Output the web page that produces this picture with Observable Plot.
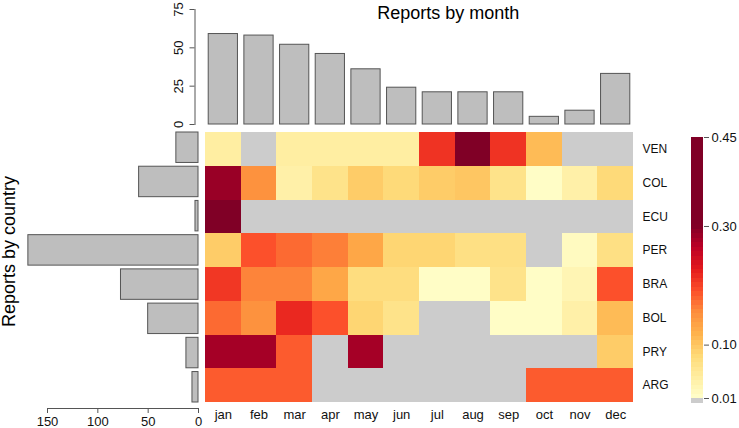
<!DOCTYPE html>
<html><head><meta charset="utf-8">
<script src="https://cdn.jsdelivr.net/npm/d3@7"></script>
<script src="https://cdn.jsdelivr.net/npm/@observablehq/plot@0.6"></script>
<style>
html,body{margin:0;padding:0;background:#fff;}
#chart{position:relative;width:739px;height:428px;overflow:hidden;background:#fff;}
#chart svg{position:absolute;left:0;top:0;}
</style></head><body><div id="chart"></div>
<script>
const months = ["jan","feb","mar","apr","may","jun","jul","aug","sep","oct","nov","dec"];
const countries = ["VEN","COL","ECU","PER","BRA","BOL","PRY","ARG"];
const monthTotals = [59,58,52,46,36,24,21,21,21,5,9,33];
const countryTotals = [22,59,3,169,77,50,12,6];
const rateVEN = [0.045,null,0.045,0.045,0.045,0.045,0.21,0.40,0.21,0.11,null,null];
const rateCOL = [0.285,0.15,0.04,0.065,0.095,0.08,0.095,0.10,0.065,0.015,0.04,0.08];
const rateECU = [0.45,null,null,null,null,null,null,null,null,null,null,null];
const ratePER = [0.095,0.19,0.175,0.163,0.13,0.085,0.085,0.07,0.07,null,0.02,0.07];
const rateBRA = [0.207,0.16,0.16,0.13,0.075,0.075,0.015,0.015,0.065,0.015,0.03,0.19];
const rateBOL = [0.175,0.15,0.218,0.19,0.085,0.065,null,null,0.015,0.015,0.04,0.11];
const ratePRY = [0.278,0.278,0.184,null,0.278,null,null,null,null,null,null,0.095];
const rateARG = [0.184,0.184,0.184,null,null,null,null,null,null,0.184,0.184,0.184];
const rateRows = [rateVEN,rateCOL,rateECU,ratePER,rateBRA,rateBOL,ratePRY,rateARG];
const monthTicks = [0,25,50,75];
const countryTicks = [0,50,100,150];
const colorTicks = [0.01,0.10,0.30,0.45];
const ylorrd = ["#ffffcc","#ffeda0","#fed976","#feb24c","#fd8d3c","#fc4e2a","#e31a1c","#bd0026","#800026"];

const monthBars = months.map((m,i)=>({month:m, n:monthTotals[i]}));
const countryBars = countries.map((c,i)=>({country:c, n:countryTotals[i]}));
const cells = countries.flatMap((c,i)=>months.map((m,j)=>({country:c, month:m, rate:rateRows[i][j]})));
const legendStep = 0.0075;
const legendBands = d3.range(0.01, 0.45, legendStep).map(v=>({y1:v, y2:Math.min(0.45, v+legendStep), v:v+legendStep/2}));

const colorOpts = {type:"linear", domain:[0.01,0.30], interpolate:d3.piecewise(d3.interpolateRgb, ylorrd), clamp:true};
const FONT = "'Liberation Sans', Arial, Helvetica, sans-serif";
const baseStyle = fs => ({background:"transparent", fontFamily:FONT, fontSize:fs+"px", color:"#000", overflow:"visible"});
const barFill = "#bebebe", barStroke = "#555555", axisStroke = "#555555";

const topPanel = Plot.plot({
  width:739, height:428, marginLeft:194.5, marginRight:106, marginTop:9, marginBottom:304,
  style: baseStyle(13),
  x:{domain:months, range:[205,633], paddingInner:0.18, paddingOuter:0.09, round:false, axis:null},
  y:{domain:[0,75], label:null},
  marks:[
    Plot.barY(monthBars, {x:"month", y:"n", fill:barFill, stroke:barStroke, strokeWidth:1}),
    Plot.frame({anchor:"left", stroke:axisStroke}),
    Plot.axisY({ticks:monthTicks, tickSize:5, tickFormat:()=>"", label:null, stroke:axisStroke}),
    Plot.text(monthTicks, {y:d=>d, text:d=>String(d), frameAnchor:"left", dx:-16.5, rotate:-90, textAnchor:"middle", lineAnchor:"middle", fontSize:13, fill:"#111"}),
    Plot.text(["Reports by month"], {text:d=>d, frameAnchor:"top", dx:34, dy:4, lineAnchor:"middle", textAnchor:"middle", fontSize:18, fill:"#000"})
  ]
});

const leftPanel = Plot.plot({
  width:739, height:428, marginLeft:47, marginRight:541, marginTop:0, marginBottom:20,
  style: baseStyle(13),
  x:{domain:[0,150], range:[198,47], label:null},
  y:{domain:countries, range:[132,402], paddingInner:0.11, paddingOuter:0, round:false, axis:null},
  marks:[
    Plot.barX(countryBars, {x:"n", y:"country", fill:barFill, stroke:barStroke, strokeWidth:1}),
    Plot.frame({anchor:"bottom", stroke:axisStroke}),
    Plot.axisX({ticks:countryTicks, tickSize:5, tickPadding:3, label:null, fontSize:13, stroke:axisStroke, fill:"#111"}),
    Plot.text(["Reports by country"], {text:d=>d, frameAnchor:"left", rotate:-90, dx:-38.5, dy:47, fontSize:18, lineAnchor:"middle", textAnchor:"middle", fill:"#000"})
  ]
});

const heatPanel = Plot.plot({
  width:739, height:428, marginLeft:205, marginRight:106, marginTop:132, marginBottom:26,
  style: baseStyle(13),
  x:{domain:months, padding:0, round:false, label:null},
  y:{domain:countries, padding:0, round:false, label:null},
  color: colorOpts,
  marks:[
    Plot.cell(cells, {x:"month", y:"country", fill:"#cccccc", inset:0, shapeRendering:"crispEdges"}),
    Plot.cell(cells.filter(d=>d.rate!=null), {x:"month", y:"country", fill:"rate", inset:0, shapeRendering:"crispEdges"}),
    Plot.axisX({anchor:"bottom", tickSize:0, tickPadding:7, fontSize:13, label:null, fill:"#111"}),
    Plot.axisY({anchor:"right", tickSize:0, tickPadding:9, fontSize:12, label:null, textAnchor:"start", fill:"#111"})
  ]
});

const legendPanel = Plot.plot({
  width:739, height:428, marginLeft:691, marginRight:36, marginTop:137, marginBottom:30,
  style: baseStyle(13),
  y:{domain:[0.01,0.45], range:[398,137], label:null},
  color: colorOpts,
  marks:[
    Plot.rect(legendBands, {y1:"y1", y2:"y2", fill:"v", shapeRendering:"crispEdges"}),
    Plot.rect([{y1:0.0016, y2:0.01}], {y1:"y1", y2:"y2", fill:"#cccccc", shapeRendering:"crispEdges"}),
    Plot.axisY({anchor:"right", ticks:colorTicks, tickFormat:d3.format(".2f"), tickSize:5, tickPadding:3, fontSize:13, label:null, stroke:axisStroke, fill:"#111"})
  ]
});

const chart = document.getElementById("chart");
[topPanel, leftPanel, heatPanel, legendPanel].forEach(p => chart.appendChild(p));
</script>
</body></html>
